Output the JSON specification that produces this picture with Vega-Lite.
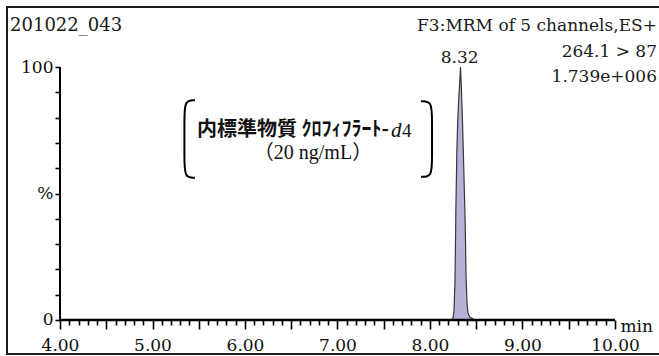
{
  "$schema": "https://vega.github.io/schema/vega-lite/v6.json",
  "width": 656,
  "height": 347,
  "autosize": {"type": "none"},
  "padding": {"left": 7, "top": 7, "right": -4, "bottom": 2},
  "background": "white",
  "config": {"view": {"stroke": "#1a1a1a", "strokeWidth": 2}},
  "datasets": {
    "chrom": [
      {"time": 4.0, "intensity": 0},
      {"time": 8.24, "intensity": 0},
      {"time": 8.25, "intensity": 1},
      {"time": 8.26, "intensity": 4},
      {"time": 8.27, "intensity": 15},
      {"time": 8.28, "intensity": 44},
      {"time": 8.29, "intensity": 66},
      {"time": 8.30, "intensity": 79},
      {"time": 8.31, "intensity": 87},
      {"time": 8.32, "intensity": 93},
      {"time": 8.33, "intensity": 100},
      {"time": 8.34, "intensity": 91},
      {"time": 8.35, "intensity": 80},
      {"time": 8.36, "intensity": 67},
      {"time": 8.37, "intensity": 53},
      {"time": 8.38, "intensity": 39},
      {"time": 8.39, "intensity": 17},
      {"time": 8.40, "intensity": 7},
      {"time": 8.41, "intensity": 3},
      {"time": 8.42, "intensity": 2},
      {"time": 8.43, "intensity": 1.2},
      {"time": 8.45, "intensity": 0.8},
      {"time": 8.48, "intensity": 0},
      {"time": 10.0, "intensity": 0}
    ],
    "brackets": [
      {"side": "L", "ord": 1, "time": 5.459, "intensity": 86.9},
      {"side": "L", "ord": 2, "time": 5.345, "intensity": 86.9},
      {"side": "L", "ord": 3, "time": 5.345, "intensity": 79.0},
      {"side": "L", "ord": 4, "time": 5.345, "intensity": 64.0},
      {"side": "L", "ord": 5, "time": 5.345, "intensity": 56.2},
      {"side": "L", "ord": 6, "time": 5.459, "intensity": 56.2},
      {"side": "R", "ord": 1, "time": 7.903, "intensity": 86.5},
      {"side": "R", "ord": 2, "time": 8.022, "intensity": 86.5},
      {"side": "R", "ord": 3, "time": 8.022, "intensity": 79.0},
      {"side": "R", "ord": 4, "time": 8.022, "intensity": 64.0},
      {"side": "R", "ord": 5, "time": 8.022, "intensity": 56.6},
      {"side": "R", "ord": 6, "time": 7.903, "intensity": 56.6}
    ]
  },
  "encoding": {
    "x": {
      "field": "time", "type": "quantitative",
      "scale": {"domain": [3.427, 10.519], "nice": false, "zero": false},
      "axis": {
        "orient": "bottom", "offset": -34, "domain": false, "grid": false,
        "values": [4,4.1,4.2,4.3,4.4,4.5,4.6,4.7,4.8,4.9,5,5.1,5.2,5.3,5.4,5.5,5.6,5.7,5.8,5.9,6,6.1,6.2,6.3,6.4,6.5,6.6,6.7,6.8,6.9,7,7.1,7.2,7.3,7.4,7.5,7.6,7.7,7.8,7.9,8,8.1,8.2,8.3,8.4,8.5,8.6,8.7,8.8,8.9,9,9.1,9.2,9.3,9.4,9.5,9.6,9.7,9.8,9.9,10],
        "tickSize": {"condition": {"test": "abs(datum.value*2 - round(datum.value*2)) < 0.001", "value": 9}, "value": 5},
        "tickWidth": 1.6, "tickColor": "#000",
        "labelExpr": "abs(datum.value - round(datum.value)) < 0.001 ? format(datum.value, '.2f') : ''",
        "labelFont": "DejaVu Serif", "labelFontSize": 17, "labelColor": "#111",
        "labelPadding": 8, "labelOverlap": false, "labelFlush": false, "labelBound": false,
        "title": "min", "titleFont": "DejaVu Serif", "titleFontSize": 17, "titleFontWeight": "normal",
        "titleColor": "#111", "titleX": 613, "titleY": 11, "titleAlign": "left", "titleBaseline": "alphabetic", "titleAngle": 0
      }
    },
    "y": {
      "field": "intensity", "type": "quantitative",
      "scale": {"domain": [-13.44, 123.72], "nice": false, "zero": false},
      "axis": {
        "orient": "left", "offset": -53, "domain": false, "grid": false,
        "values": [0,10,20,30,40,50,60,70,80,90,100],
        "tickSize": 5, "tickWidth": 1.6, "tickColor": "#000",
        "labelExpr": "datum.value === 0 ? '0' : datum.value === 50 ? '%' : datum.value === 100 ? '100' : ''",
        "labelFont": "DejaVu Serif", "labelFontSize": 17, "labelColor": "#111",
        "labelPadding": 2, "labelOverlap": false, "labelFlush": false, "labelBound": false,
        "title": null
      }
    }
  },
  "layer": [
    {
      "data": {"name": "chrom"},
      "mark": {"type": "area", "color": "#b6b3db", "opacity": 1, "interpolate": "linear", "line": {"color": "#383838", "strokeWidth": 1.2}}
    },
    {
      "data": {"values": [{"time": 4, "time_end": 10, "intensity": 0}]},
      "mark": {"type": "rule", "color": "#000", "strokeWidth": 2.5},
      "encoding": {"x2": {"field": "time_end"}}
    },
    {
      "data": {"values": [{"time": 4, "intensity": 0, "intensity_end": 100}]},
      "mark": {"type": "rule", "color": "#000", "strokeWidth": 2},
      "encoding": {"y2": {"field": "intensity_end"}}
    },
    {
      "data": {"name": "brackets"},
      "mark": {"type": "line", "color": "#000", "strokeWidth": 2, "interpolate": "basis"},
      "encoding": {
        "detail": {"field": "side"},
        "order": {"field": "ord"}
      }
    },
    {
      "data": {"values": [{"time": 3.46, "intensity": 114.2, "text": "201022_043"}]},
      "mark": {"type": "text", "font": "DejaVu Serif", "fontSize": 18, "color": "#1a1a1a", "baseline": "alphabetic", "align": "left"},
      "encoding": {"text": {"field": "text"}}
    },
    {
      "data": {"values": [
        {"time": 10.454, "intensity": 114.2, "text": "F3:MRM of 5 channels,ES+"},
        {"time": 10.454, "intensity": 103.9, "text": "264.1 > 87"},
        {"time": 10.454, "intensity": 94.1, "text": "1.739e+006"}
      ]},
      "mark": {"type": "text", "font": "DejaVu Serif", "fontSize": 17, "color": "#1a1a1a", "baseline": "alphabetic", "align": "right"},
      "encoding": {"text": {"field": "text"}}
    },
    {
      "data": {"values": [{"time": 8.32, "intensity": 101.6, "text": "8.32"}]},
      "mark": {"type": "text", "font": "DejaVu Serif", "fontSize": 17, "color": "#1a1a1a", "baseline": "alphabetic", "align": "center"},
      "encoding": {"text": {"field": "text"}}
    },
    {
      "data": {"values": [{"time": 5.481, "intensity": 75.1, "text": "内標準物質 ｸﾛﾌｨﾌﾗｰﾄ-"}]},
      "mark": {"type": "text", "font": "Noto Sans CJK JP", "fontWeight": "bold", "fontSize": 20, "color": "#111", "baseline": "middle", "align": "left"},
      "encoding": {"text": {"field": "text"}}
    },
    {
      "data": {"values": [{"time": 7.578, "intensity": 72.3, "text": "d"}]},
      "mark": {"type": "text", "font": "Liberation Serif", "fontStyle": "italic", "fontSize": 21, "color": "#111", "baseline": "alphabetic", "align": "left"},
      "encoding": {"text": {"field": "text"}}
    },
    {
      "data": {"values": [{"time": 7.697, "intensity": 72.3, "text": "4"}]},
      "mark": {"type": "text", "font": "Liberation Serif", "fontSize": 19, "color": "#111", "baseline": "alphabetic", "align": "left"},
      "encoding": {"text": {"field": "text"}}
    },
    {
      "data": {"values": [{"time": 6.735, "intensity": 66.0, "text": "（20 ng/mL）"}]},
      "mark": {"type": "text", "font": "Liberation Serif, Noto Sans CJK JP", "fontSize": 20, "color": "#111", "baseline": "middle", "align": "center"},
      "encoding": {"text": {"field": "text"}}
    }
  ]
}
